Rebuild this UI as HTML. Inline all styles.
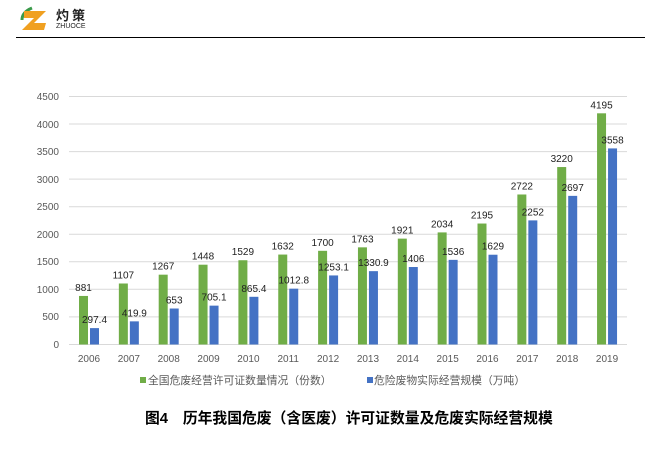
<!DOCTYPE html>
<html><head><meta charset="utf-8"><style>
body{margin:0;width:665px;height:451px;background:#fff;overflow:hidden}
</style></head><body>
<svg width="665" height="451" xmlns="http://www.w3.org/2000/svg" font-family="Liberation Sans, Noto Sans CJK SC, sans-serif">
<path d="M32 8 Q22 12 22 20" stroke="#3a9a4a" stroke-width="3" fill="none"/>
<polygon points="24,11 46,11 34,23 46,23 44,30 22,30 34,18 24,18" fill="#f0a020"/>
<text x="56" y="20" font-size="13" font-weight="bold" fill="#222" font-family="Noto Sans CJK SC, sans-serif">灼 策</text>
<text x="56" y="28" font-size="7" fill="#222">ZHUOCE</text>
<line x1="16" y1="37.5" x2="645" y2="37.5" stroke="#000" stroke-width="1"/>
<g stroke="#d9d9d9" stroke-width="1">
<line x1="69" x2="627" y1="96.5" y2="96.5"/><line x1="69" x2="627" y1="124" y2="124"/>
<line x1="69" x2="627" y1="151.6" y2="151.6"/><line x1="69" x2="627" y1="179.1" y2="179.1"/>
<line x1="69" x2="627" y1="206.7" y2="206.7"/><line x1="69" x2="627" y1="234.2" y2="234.2"/>
<line x1="69" x2="627" y1="261.8" y2="261.8"/><line x1="69" x2="627" y1="289.3" y2="289.3"/>
<line x1="69" x2="627" y1="316.9" y2="316.9"/><line x1="69" x2="627" y1="344.5" y2="344.5"/>
</g>
<g font-size="10" fill="#595959" text-anchor="end">
<text x="59" y="100">4500</text><text x="59" y="128">4000</text><text x="59" y="155">3500</text>
<text x="59" y="183">3000</text><text x="59" y="210">2500</text><text x="59" y="238">2000</text>
<text x="59" y="265">1500</text><text x="59" y="293">1000</text><text x="59" y="320">500</text>
<text x="59" y="348">0</text>
</g>
<g id="bars"></g>
<g font-size="10" fill="#222" text-anchor="middle" id="labels"></g>
<g font-size="10" fill="#595959" text-anchor="middle" id="xl"></g>
<rect x="140" y="377" width="6" height="6" fill="#70ad47"/>
<text x="148" y="384" font-size="10.8" fill="#595959">全国危废经营许可证数量情况（份数）</text>
<rect x="367" y="377" width="6" height="6" fill="#4472c4"/>
<text x="374" y="384" font-size="10.8" fill="#595959">危险废物实际经营规模（万吨）</text>
<text x="145" y="423" font-size="14.8" font-weight="bold" fill="#000">图4　历年我国危废（含医废）许可证数量及危废实际经营规模</text>
</svg>
<script>
var g=[881,1107,1267,1448,1529,1632,1700,1763,1921,2034,2195,2722,3220,4195];
var b=["297.4","419.9","653","705.1","865.4","1012.8","1253.1","1330.9","1406","1536","1629","2252","2697","3558"];
var ns="http://www.w3.org/2000/svg";
function el(p,t,a,txt){var e=document.createElementNS(ns,t);for(var k in a)e.setAttribute(k,a[k]);if(txt)e.textContent=txt;document.getElementById(p).appendChild(e);}
function Y(v){return 344.5-v*248/4500;}
for(var i=0;i<14;i++){var c=89+39.85*i,bv=parseFloat(b[i]);
el("bars","rect",{x:c-10,y:Y(g[i]),width:9,height:344.5-Y(g[i]),fill:"#70ad47"});
el("bars","rect",{x:c+1,y:Y(bv),width:9,height:344.5-Y(bv),fill:"#4472c4"});
el("labels","text",{x:c-5.5,y:Y(g[i])-5},String(g[i]));
el("labels","text",{x:c+5.5,y:Y(bv)-5},b[i]);
el("xl","text",{x:c,y:362},String(2006+i));}
</script>
</body></html>
